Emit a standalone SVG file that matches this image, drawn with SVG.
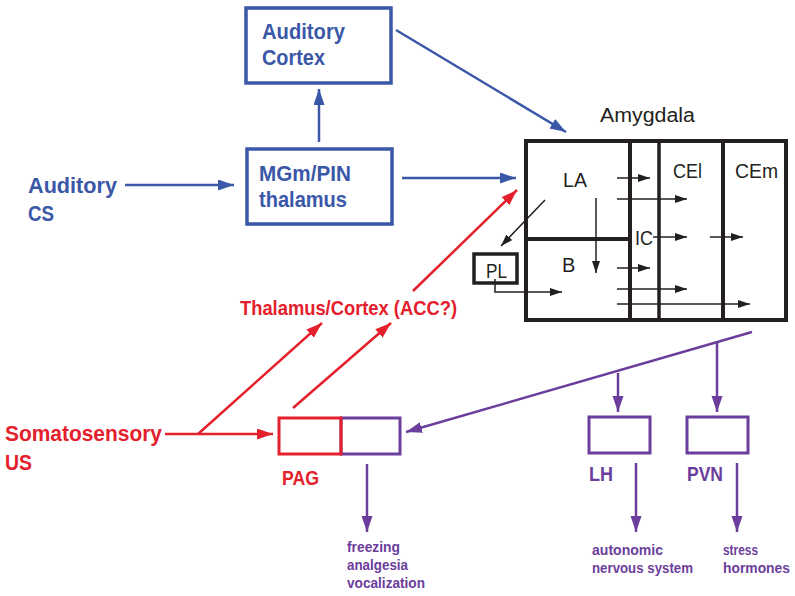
<svg xmlns="http://www.w3.org/2000/svg" width="795" height="596" viewBox="0 0 795 596">
<defs>
<style>
.b{fill:#3a57a8}.r{fill:#e3202b}.p{fill:#6b3d9c}.k{fill:#231f20}
text{font-family:"Liberation Sans",Arial,sans-serif}
.bold{font-weight:bold}
.lg{font-size:22.5px}
.md{font-size:20px}
.mb{font-size:21px}
.sm{font-size:15px}
.bl{stroke:#3a57a8;stroke-width:2.5;fill:none}
.rl{stroke:#e3202b;stroke-width:2.5;fill:none}
.pl{stroke:#6b3d9c;stroke-width:2.5;fill:none}
.kl{stroke:#231f20;stroke-width:1.5;fill:none}
</style>
<marker id="ab" markerUnits="userSpaceOnUse" markerWidth="17" markerHeight="12" refX="16" refY="5.5" orient="auto"><path d="M0,0L16,5.5L0,11z" fill="#3a57a8"/></marker>
<marker id="ar" markerUnits="userSpaceOnUse" markerWidth="17" markerHeight="12" refX="16" refY="5.5" orient="auto"><path d="M0,0L16,5.5L0,11z" fill="#e3202b"/></marker>
<marker id="ap" markerUnits="userSpaceOnUse" markerWidth="17" markerHeight="12" refX="16" refY="5.5" orient="auto"><path d="M0,0L16,5.5L0,11z" fill="#6b3d9c"/></marker>
<marker id="ak" markerUnits="userSpaceOnUse" markerWidth="13" markerHeight="9" refX="12" refY="4" orient="auto"><path d="M0,0L12,4L0,8z" fill="#231f20"/></marker>
</defs>
<rect width="795" height="596" fill="#fff"/>

<g id="auditory-cortex">
<rect x="246" y="8" width="145" height="75" fill="none" stroke="#3a57a8" stroke-width="3.5"/>
<text class="b bold lg" x="262" y="39" textLength="83" lengthAdjust="spacingAndGlyphs">Auditory</text>
<text class="b bold lg" x="262" y="65" textLength="63" lengthAdjust="spacingAndGlyphs">Cortex</text>
</g>
<g id="mgm-pin">
<rect x="247" y="149" width="145" height="75" fill="none" stroke="#3a57a8" stroke-width="3.5"/>
<text class="b bold lg" x="259" y="181" textLength="92" lengthAdjust="spacingAndGlyphs">MGm/PIN</text>
<text class="b bold lg" x="259" y="207" textLength="88" lengthAdjust="spacingAndGlyphs">thalamus</text>
</g>
<g id="auditory-cs">
<text class="b bold lg" x="28" y="193" textLength="89" lengthAdjust="spacingAndGlyphs">Auditory</text>
<text class="b bold lg" x="28" y="221" textLength="26" lengthAdjust="spacingAndGlyphs">CS</text>
</g>
<g id="amygdala">
<text class="k md" x="600" y="122" textLength="95" lengthAdjust="spacingAndGlyphs">Amygdala</text>
<rect x="526" y="141" width="260" height="179" fill="none" stroke="#231f20" stroke-width="4"/>
<line x1="630" y1="141" x2="630" y2="320" stroke="#231f20" stroke-width="4"/>
<line x1="659" y1="141" x2="659" y2="320" stroke="#231f20" stroke-width="3.5"/>
<line x1="723" y1="141" x2="723" y2="320" stroke="#231f20" stroke-width="4"/>
<line x1="526" y1="239" x2="630" y2="239" stroke="#231f20" stroke-width="4"/>
<text class="k md" x="563" y="187" textLength="24" lengthAdjust="spacingAndGlyphs">LA</text>
<text class="k md" x="673" y="178" textLength="29" lengthAdjust="spacingAndGlyphs">CEl</text>
<text class="k md" x="735" y="178" textLength="43" lengthAdjust="spacingAndGlyphs">CEm</text>
<text class="k md" x="635" y="245" textLength="18" lengthAdjust="spacingAndGlyphs">IC</text>
<text class="k md" x="562" y="272">B</text>
</g>
<g id="pl">
<rect x="474" y="254" width="43" height="29" fill="none" stroke="#231f20" stroke-width="3.5"/>
<text class="k md" x="486" y="278" textLength="21" lengthAdjust="spacingAndGlyphs">PL</text>
</g>
<g id="thalamus-cortex">
<text class="r bold mb" x="240" y="315" textLength="217" lengthAdjust="spacingAndGlyphs">Thalamus/Cortex (ACC?)</text>
</g>
<g id="somatosensory-us">
<text class="r bold lg" x="5" y="441" textLength="157" lengthAdjust="spacingAndGlyphs">Somatosensory</text>
<text class="r bold lg" x="5" y="470" textLength="27" lengthAdjust="spacingAndGlyphs">US</text>
</g>
<g id="pag">
<rect x="341" y="418" width="59" height="36" fill="none" stroke="#6b3d9c" stroke-width="3"/>
<rect x="279" y="418" width="62" height="36" fill="none" stroke="#e3202b" stroke-width="3"/>
<text class="r bold mb" x="282" y="485" textLength="37" lengthAdjust="spacingAndGlyphs">PAG</text>
</g>
<g id="pag-output">
<text class="p bold sm" x="347" y="552" textLength="53" lengthAdjust="spacingAndGlyphs">freezing</text>
<text class="p bold sm" x="347" y="570" textLength="61" lengthAdjust="spacingAndGlyphs">analgesia</text>
<text class="p bold sm" x="347" y="588" textLength="78" lengthAdjust="spacingAndGlyphs">vocalization</text>
</g>
<g id="lh">
<rect x="589" y="417" width="61" height="36" fill="none" stroke="#6b3d9c" stroke-width="3"/>
<text class="p bold mb" x="589" y="481" textLength="24" lengthAdjust="spacingAndGlyphs">LH</text>
</g>
<g id="pvn">
<rect x="687" y="417" width="61" height="36" fill="none" stroke="#6b3d9c" stroke-width="3"/>
<text class="p bold mb" x="687" y="481" textLength="36" lengthAdjust="spacingAndGlyphs">PVN</text>
</g>
<g id="lh-output">
<text class="p bold sm" x="592" y="555" textLength="71" lengthAdjust="spacingAndGlyphs">autonomic</text>
<text class="p bold sm" x="592" y="573" textLength="101" lengthAdjust="spacingAndGlyphs">nervous system</text>
</g>
<g id="pvn-output">
<text class="p bold sm" x="723" y="555" textLength="35" lengthAdjust="spacingAndGlyphs">stress</text>
<text class="p bold sm" x="723" y="573" textLength="67" lengthAdjust="spacingAndGlyphs">hormones</text>
</g>

<g id="connectors">
<line class="bl" x1="125" y1="185" x2="234" y2="185" marker-end="url(#ab)"/>
<line class="bl" x1="319" y1="142" x2="319" y2="89" marker-end="url(#ab)"/>
<line class="bl" x1="402" y1="178" x2="516" y2="178" marker-end="url(#ab)"/>
<line class="bl" x1="396" y1="30" x2="566" y2="132" marker-end="url(#ab)"/>
<line class="rl" x1="165" y1="434" x2="273" y2="434" marker-end="url(#ar)"/>
<line class="rl" x1="198" y1="434" x2="322" y2="323" marker-end="url(#ar)"/>
<line class="rl" x1="293" y1="408" x2="391" y2="323" marker-end="url(#ar)"/>
<line class="rl" x1="413" y1="291" x2="517" y2="190" marker-end="url(#ar)"/>
<line class="pl" x1="752" y1="332" x2="406" y2="432" marker-end="url(#ap)"/>
<line class="pl" x1="618" y1="373" x2="618" y2="412" marker-end="url(#ap)"/>
<line class="pl" x1="717" y1="343" x2="717" y2="412" marker-end="url(#ap)"/>
<line class="pl" x1="367" y1="464" x2="367" y2="532" marker-end="url(#ap)"/>
<line class="pl" x1="636" y1="463" x2="636" y2="532" marker-end="url(#ap)"/>
<line class="pl" x1="737" y1="463" x2="737" y2="532" marker-end="url(#ap)"/>
<line class="kl" x1="617" y1="178" x2="650" y2="178" marker-end="url(#ak)"/>
<line class="kl" x1="617" y1="199" x2="687" y2="199" marker-end="url(#ak)"/>
<line class="kl" x1="653" y1="237" x2="687" y2="237" marker-end="url(#ak)"/>
<line class="kl" x1="710" y1="237" x2="743" y2="237" marker-end="url(#ak)"/>
<line class="kl" x1="617" y1="268" x2="650" y2="268" marker-end="url(#ak)"/>
<line class="kl" x1="617" y1="289" x2="687" y2="289" marker-end="url(#ak)"/>
<line class="kl" x1="617" y1="304" x2="750" y2="304" marker-end="url(#ak)"/>
<line class="kl" x1="596" y1="198" x2="596" y2="273" marker-end="url(#ak)"/>
<line class="kl" x1="545" y1="200" x2="501" y2="246" marker-end="url(#ak)"/>
<polyline class="kl" points="495,279 495,292 562,292" marker-end="url(#ak)"/>
</g>
</svg>
